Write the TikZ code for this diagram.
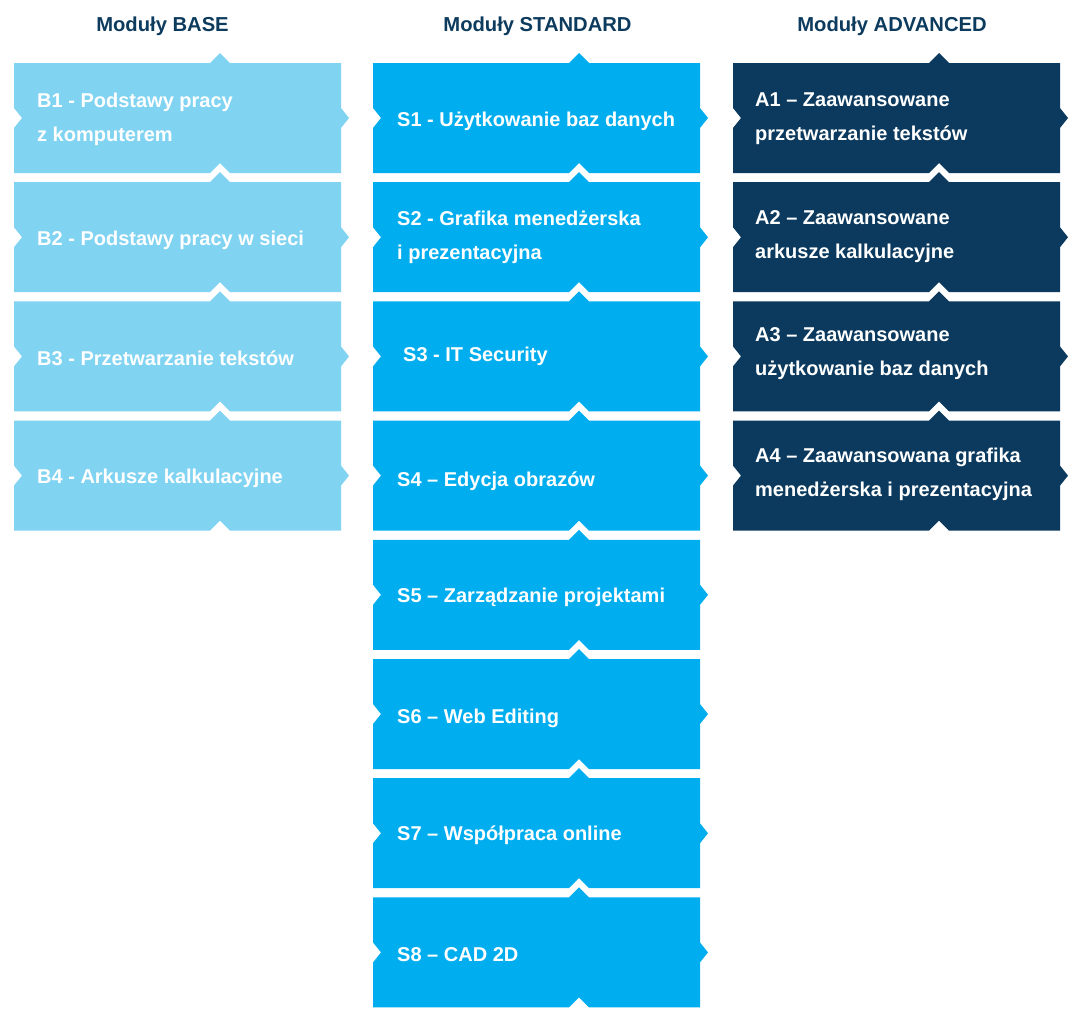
\documentclass[tikz,border=0pt]{standalone}
\usepackage{fontspec}
\setmainfont{Liberation Sans}
\usetikzlibrary{positioning}
\definecolor{baseblue}{HTML}{81D3F2}
\definecolor{stdblue}{HTML}{00AEEF}
\definecolor{advblue}{HTML}{0B3A5E}
\definecolor{headblue}{HTML}{0D3B5E}

% puzzle box: left x, top y, colour
\newcommand{\modbox}[3]{%
\fill[#3](#1,#2)--++(196,0)--++(10,-10)--++(10,10)--++(111,0)--++(0,45)--++(8,10)--++(-8,10)--++(0,45)
--++(-111,0)--++(-10,-10)--++(-10,10)--++(-196,0)--++(0,-45)--++(8,-10)--++(-8,-10)--cycle;}

\begin{document}
\begin{tikzpicture}[x=1pt,y=-1pt,
  head/.style={text=headblue,font=\bfseries\fontsize{20.2}{22}\selectfont,inner sep=0pt},
  modtext/.style={text=white,font=\bfseries\fontsize{20}{34}\selectfont,align=left,anchor=west,inner sep=0pt}]
\useasboundingbox (0,0) rectangle (1079,1021);

\node[head] (hbase) at (162.5,26){Moduły BASE};
\node[head] (hstd) at (537.5,26){Moduły STANDARD};
\node[head] (hadv) at (892,26){Moduły ADVANCED};

% BASE
\modbox{14}{63}{baseblue}
\modbox{14}{182.2}{baseblue}
\modbox{14}{301.4}{baseblue}
\modbox{14}{420.6}{baseblue}
\node[modtext] (b1) at (37,119){B1 - Podstawy pracy\\z komputerem};
\node[modtext] (b2) at (37,240){B2 - Podstawy pracy w sieci};
\node[modtext] (b3) at (37,358){B3 - Przetwarzanie tekstów};
\node[modtext] (b4) at (37,478){B4 - Arkusze kalkulacyjne};

% STANDARD
\modbox{373}{63}{stdblue}
\modbox{373}{182.2}{stdblue}
\modbox{373}{301.4}{stdblue}
\modbox{373}{420.6}{stdblue}
\modbox{373}{539.8}{stdblue}
\modbox{373}{659}{stdblue}
\modbox{373}{778.2}{stdblue}
\modbox{373}{897.4}{stdblue}
\node[modtext] (s1) at (397,121){S1 - Użytkowanie baz danych};
\node[modtext] (s2) at (397,237){S2 - Grafika menedżerska\\i prezentacyjna};
\node[modtext] (s3) at (403,356){S3 - IT Security};
\node[modtext] (s4) at (397,481){S4 -- Edycja obrazów};
\node[modtext] (s5) at (397,597){S5 -- Zarządzanie projektami};
\node[modtext] (s6) at (397,718){S6 -- Web Editing};
\node[modtext] (s7) at (397,835){S7 -- Współpraca online};
\node[modtext] (s8) at (397,955){S8 -- CAD 2D};

% ADVANCED
\modbox{733}{63}{advblue}
\modbox{733}{182.2}{advblue}
\modbox{733}{301.4}{advblue}
\modbox{733}{420.6}{advblue}
\node[modtext] (a1) at (755,119){A1 -- Zaawansowane\\przetwarzanie tekstów};
\node[modtext] (a2) at (755,237){A2 -- Zaawansowane\\arkusze kalkulacyjne};
\node[modtext] (a3) at (755,354){A3 -- Zaawansowane\\użytkowanie baz danych};
\node[modtext] (a4) at (755,474){A4 -- Zaawansowana grafika\\menedżerska i prezentacyjna};
\end{tikzpicture}
\end{document}
